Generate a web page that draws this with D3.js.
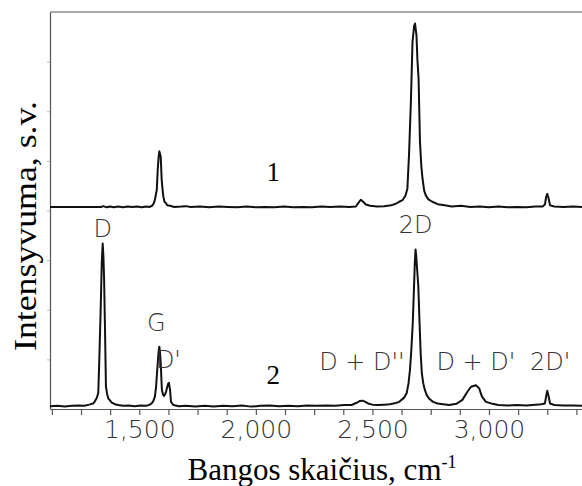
<!DOCTYPE html>
<html>
<head>
<meta charset="utf-8">
<script src="https://cdn.jsdelivr.net/npm/d3@7"></script>
<style>
  body { margin: 0; background: #fff; }
  svg { display: block; }
</style>
</head>
<body>
<script>
// Raman spectra, wavenumber (cm-1) vs. intensity (a.u.)
const spectrum1 = [
  [1117,0.9],[1200,0.9],[1300,0.9],[1338,0.9],[1345,1.1],[1360,0.8],[1375,1.0],[1390,0.8],[1410,1.0],
  [1430,0.8],[1450,1.0],[1470,0.9],[1490,1.0],[1510,0.8],[1530,1.0],[1545,0.9],[1555,1.2],[1562,1.8],
  [1567,2.7],[1575,5.2],[1579,10.2],[1583,13.5],[1586,14.9],[1589,14.3],[1592,13.5],[1596,7.8],[1600,5.2],
  [1603,3.6],[1608,2.2],[1614,1.9],[1620,1.3],[1632,1.2],[1650,0.9],[1680,1.0],[1700,1.1],[1720,0.9],
  [1760,1.0],[1800,0.8],[1840,1.0],[1880,0.9],[1920,0.8],[1960,1.0],[2000,0.8],[2040,0.9],[2080,0.8],
  [2120,1.0],[2160,0.8],[2200,0.9],[2240,0.8],[2280,1.0],[2320,0.9],[2360,1.0],[2400,0.9],[2429,1.0],
  [2440,1.9],[2450,2.7],[2460,2.2],[2472,1.5],[2490,1.2],[2520,1.0],[2550,1.1],[2580,1.3],[2600,1.7],
  [2615,2.2],[2629,2.6],[2642,3.8],[2650,5.5],[2657,14],[2665,27.3],[2672,42.5],[2679,46.5],[2683,47.1],
  [2686,45.5],[2689,44.2],[2693,38],[2698,33.2],[2704,17.3],[2710,11],[2715,8],[2722,5],[2729,3.8],
  [2740,2.8],[2757,2.2],[2780,1.6],[2810,1.3],[2840,1.0],[2880,1.2],[2920,0.9],[2960,1.0],[3000,0.8],
  [3040,1.0],[3080,0.8],[3120,0.9],[3160,0.8],[3200,1.0],[3230,1.0],[3240,1.5],[3245,3.4],[3250,4.2],
  [3255,3.2],[3262,1.3],[3280,1.0],[3320,0.9],[3360,1.0],[3399,0.9]
];
const spectrum2 = [
  [1117,0.7],[1150,0.8],[1180,0.6],[1210,0.8],[1240,0.9],[1265,0.8],[1285,1.1],[1295,1.3],[1303,1.4],
  [1310,2.0],[1317,2.7],[1324,4.0],[1328,11.5],[1334,24.1],[1339,36.7],[1343,41.7],[1346,38.5],[1349,33],
  [1353,19.9],[1357,5.6],[1362,3.8],[1367,2.7],[1382,1.6],[1395,1.2],[1410,1.0],[1430,0.8],[1455,0.9],
  [1480,0.7],[1505,0.9],[1530,0.8],[1545,1.1],[1553,1.4],[1560,2.0],[1567,3.1],[1572,5.6],[1579,11.5],
  [1583,14.5],[1586,15.7],[1589,14.2],[1592,11.5],[1597,4.8],[1602,3.6],[1606,3.3],[1611,3.8],[1615,4.4],
  [1620,5.6],[1624,6.4],[1627,6.6],[1630,5.5],[1632,4.8],[1636,1.8],[1646,1.0],[1670,0.7],[1700,0.8],
  [1740,0.6],[1780,0.8],[1820,0.6],[1860,0.8],[1900,0.7],[1940,0.9],[1980,0.6],[2020,0.8],[2060,0.9],
  [2100,0.7],[2140,0.8],[2180,0.7],[2220,0.9],[2260,0.8],[2300,0.9],[2340,0.8],[2380,1.0],[2410,1.0],
  [2430,1.5],[2445,2.0],[2458,2.1],[2470,1.8],[2485,1.3],[2500,1.1],[2525,1.0],[2550,1.1],[2575,1.2],
  [2600,1.5],[2615,1.8],[2635,2.8],[2647,4.0],[2655,6.5],[2661,9.8],[2667,15],[2673,21.6],[2678,30],
  [2682,37],[2685,40.2],[2688,38.5],[2692,35],[2697,30.8],[2702,22],[2707,14],[2712,9],[2718,6.5],
  [2725,4.8],[2733,3.5],[2745,2.5],[2760,1.8],[2780,1.4],[2803,1.2],[2830,1.0],[2860,1.3],[2886,2.3],
  [2908,4.4],[2923,5.6],[2944,6.0],[2958,5.2],[2970,3.1],[2987,1.8],[3015,1.3],[3040,1.0],[3080,0.9],
  [3120,1.0],[3160,0.9],[3200,1.1],[3225,1.2],[3240,1.4],[3246,3.5],[3250,4.6],[3255,3.4],[3262,1.4],
  [3280,1.0],[3320,0.9],[3360,0.9],[3399,0.8]
];
const offset1 = 50.0; // vertical shift of spectrum 1

const xTicks = [1125,1250,1375,1500,1625,1750,1875,2000,2125,2250,2375,2500,2625,2750,2875,3000,3125,3250,3375];
const xTickLabels = [1500, 2000, 2500, 3000];
const yTicks = [12.5, 25, 37.5, 50, 62.5, 75, 87.5];

// band labels: [text, wavenumber, intensity at baseline of text]
const bandLabels = [
  ["D", 1343, 43.4],
  ["G", 1573, 19.7],
  ["D'", 1625, 10.3],
  ["D + D''", 2455, 9.8],
  ["2D", 2685, 44.3],
  ["D + D'", 2944, 9.8],
  ["2D'", 3262, 9.8]
];
const seriesLabels = [["1", 2075, 57.4], ["2", 2075, 6.2]];

const W = 582, H = 486;
const svg = d3.select("body").append("svg").attr("width", W).attr("height", H);

const x = d3.scaleLinear().domain([1117, 3399]).range([50, 582]);
const y = d3.scaleLinear().domain([0, 100]).range([409, 12]);

// frame
svg.append("line").attr("x1", 50).attr("x2", 582).attr("y1", 12).attr("y2", 12)
  .attr("stroke", "#555").attr("stroke-width", 1.2);

const xAxis = svg.append("g").attr("transform", "translate(0,409)")
  .call(d3.axisBottom(x).tickValues(xTicks).tickSize(6).tickSizeOuter(0)
    .tickFormat(d => xTickLabels.includes(d) ? d3.format(",")(d) : ""));
xAxis.select(".domain").attr("stroke", "#555").attr("stroke-width", 1.2);
xAxis.selectAll(".tick line").attr("stroke", "#555").attr("stroke-width", 1.2);
xAxis.selectAll(".tick text")
  .attr("font-family", "'DejaVu Sans', sans-serif").attr("font-weight", 200)
  .attr("font-size", 25).attr("fill", "#333").attr("dy", "0.9em").attr("y", 6);

const yAxis = svg.append("g").attr("transform", "translate(50,0)")
  .call(d3.axisLeft(y).tickValues(yTicks).tickSize(3).tickSizeOuter(0).tickFormat(""));
yAxis.select(".domain").attr("stroke", "#555").attr("stroke-width", 1.2);
yAxis.selectAll(".tick line").attr("stroke", "#bbb");

const line = d3.line().x(d => x(d[0])).y(d => y(d[1]));

svg.append("path").datum(spectrum1.map(d => [d[0], d[1] + offset1]))
  .attr("d", line).attr("fill", "none").attr("stroke", "#111")
  .attr("stroke-width", 2).attr("stroke-linejoin", "round");
svg.append("path").datum(spectrum2)
  .attr("d", line).attr("fill", "none").attr("stroke", "#111")
  .attr("stroke-width", 2).attr("stroke-linejoin", "round");

svg.selectAll(".band").data(bandLabels).enter().append("text")
  .attr("x", d => x(d[1])).attr("y", d => y(d[2]))
  .attr("text-anchor", "middle")
  .attr("font-family", "'DejaVu Sans', sans-serif").attr("font-weight", 200)
  .attr("font-size", 24).attr("fill", "#333")
  .text(d => d[0]);

svg.selectAll(".series").data(seriesLabels).enter().append("text")
  .attr("x", d => x(d[1])).attr("y", d => y(d[2]))
  .attr("text-anchor", "middle")
  .attr("font-family", "'Liberation Serif', 'Times New Roman', serif")
  .attr("font-size", 27).attr("fill", "#000")
  .text(d => d[0]);

// axis titles
const xt = svg.append("text").attr("x", 322).attr("y", 480).attr("text-anchor", "middle")
  .attr("font-family", "'Liberation Serif', 'Times New Roman', serif").attr("font-size", 31);
xt.append("tspan").text("Bangos skaičius, cm");
xt.append("tspan").attr("dy", -12).attr("font-size", 18).text("-1");

svg.append("text").attr("transform", "translate(36,226) rotate(-90)")
  .attr("text-anchor", "middle")
  .attr("font-family", "'Liberation Serif', 'Times New Roman', serif").attr("font-size", 32)
  .attr("textLength", 250).attr("lengthAdjust", "spacingAndGlyphs")
  .text("Intensyvuma, s.v.");
</script>
</body>
</html>
